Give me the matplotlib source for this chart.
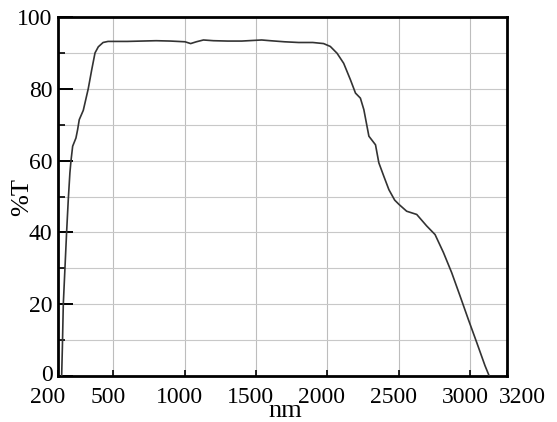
import numpy as np
import matplotlib
matplotlib.use("Agg")
import matplotlib.pyplot as plt
from matplotlib.ticker import MultipleLocator, FixedLocator
from matplotlib.transforms import ScaledTranslation

plt.rcParams["font.family"] = ["Liberation Serif", "DejaVu Serif"]

# ── data ─────────────────────────────────────────────────────────────────────
wavelength_nm = [220, 224, 229, 238, 247, 256, 265, 271, 280, 298, 307, 316,
                 338, 365, 384, 402, 420, 446, 473, 500, 600, 700, 800, 900,
                 950, 1000, 1040, 1080, 1130, 1200, 1300, 1400, 1540, 1600,
                 1700, 1800, 1900, 1976, 2023, 2070, 2116, 2163, 2198, 2232,
                 2256, 2291, 2337, 2360, 2395, 2430, 2470, 2500, 2554, 2625,
                 2695, 2754, 2813, 2871, 2930, 2988, 3036, 3081, 3104]
transmittance = [0.0, 8.0, 20.0, 30.0, 40.0, 49.0, 56.6, 60.0, 64.0, 66.3,
                 68.6, 71.4, 74.0, 80.0, 85.3, 90.0, 91.7, 92.9, 93.2, 93.2,
                 93.2, 93.3, 93.4, 93.3, 93.2, 93.1, 92.6, 93.1, 93.6, 93.4,
                 93.3, 93.3, 93.6, 93.4, 93.1, 92.9, 92.9, 92.6, 91.8, 89.9,
                 87.1, 82.5, 78.8, 77.4, 74.2, 66.8, 64.4, 59.4, 55.6, 51.9,
                 49.0, 47.8, 45.9, 45.0, 41.8, 39.4, 34.4, 28.8, 22.3, 15.8,
                 9.4, 2.9, 0.0]

x_ticks = [200, 500, 1000, 1500, 2000, 2500, 3000, 3200]
x_tick_labels = ["200", "500", "1000", "1500", "2000", "2500", "3000", "3200"]
y_ticks = [0, 20, 40, 60, 80, 100]

# the original axis is not linear: its ends are stretched a little
scale_nm = [200, 500, 1000, 1500, 2000, 2500, 3000, 3200]
scale_pos = [0, 55, 127, 198, 269, 341, 412, 449]


def fwd(v):
    return np.interp(v, scale_nm, scale_pos)


def inv(v):
    return np.interp(v, scale_pos, scale_nm)


# ── figure ───────────────────────────────────────────────────────────────────
fig = plt.figure(figsize=(5.57, 4.22), dpi=100)
ax = fig.add_axes([0.1041, 0.109, 0.8061, 0.8507])

ax.plot(wavelength_nm, transmittance, color="#333333", lw=1.2, zorder=3)

ax.set_xscale("function", functions=(fwd, inv))
ax.set_xlim(200, 3200)
ax.set_ylim(0, 100)

ax.xaxis.set_major_locator(FixedLocator(x_ticks))
ax.set_xticklabels(x_tick_labels)
ax.xaxis.set_minor_locator(FixedLocator([]))
ax.yaxis.set_major_locator(FixedLocator(y_ticks))
ax.yaxis.set_minor_locator(MultipleLocator(10))

ax.grid(True, which="major", axis="x", color="#bdbdbd", lw=0.8)
ax.grid(True, which="both", axis="y", color="#c8c8c8", lw=0.8)
ax.set_axisbelow(True)

for s in ax.spines.values():
    s.set_linewidth(2.0)
    s.set_color("black")

ax.tick_params(axis="y", which="major", direction="in", length=11, width=1.4,
               labelsize=17, pad=4, right=False)
ax.tick_params(axis="y", which="minor", direction="in", length=5, width=1.2,
               right=False)
ax.tick_params(axis="x", which="major", direction="in", length=4, width=1.2,
               labelsize=17, pad=8, top=False)

# nudge the tick labels the way they sit in the scan
shifts = {"200": -10, "3200": 15}
for lab in ax.get_xticklabels():
    dx = shifts.get(lab.get_text(), -5) / 100.0
    lab.set_transform(lab.get_transform()
                      + ScaledTranslation(dx, 0, fig.dpi_scale_trans))
zero_lab = ax.get_yticklabels()[0]
zero_lab.set_transform(zero_lab.get_transform()
                       + ScaledTranslation(0, 0.03, fig.dpi_scale_trans))

ax.set_xlabel("nm", fontsize=19, va="baseline")
ax.xaxis.set_label_coords(0.506, -0.114)
ax.set_ylabel("%T", fontsize=19, va="center")
ax.yaxis.set_label_coords(-0.079, 0.5)

fig.savefig("out.png", dpi=100, facecolor="white")
